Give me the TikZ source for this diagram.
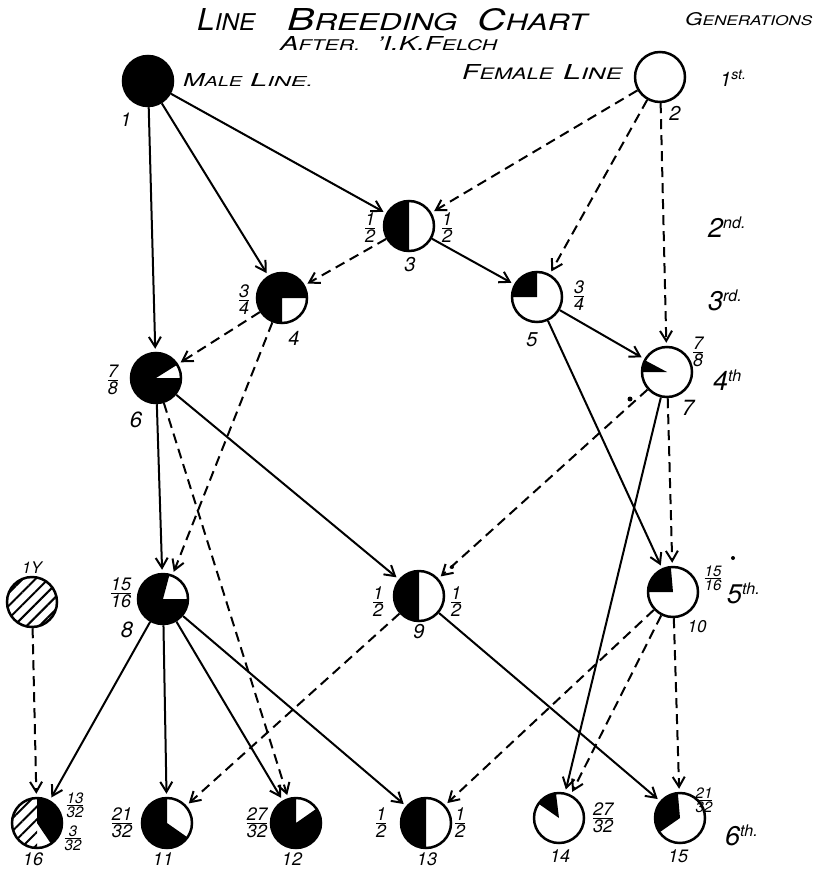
\documentclass[tikz,border=0pt]{standalone}
\usepackage{fontspec}
\setmainfont{TeX Gyre Heros}
\usepackage{graphicx}
\usetikzlibrary{arrows.meta,patterns.meta}
\newcommand\frc[2]{$\hbox{#1}\above 1.1pt\hbox{#2}$}
\newcommand\Lg[1]{{\fontsize{30pt}{30pt}\selectfont\itshape #1}}
\newcommand\Sm[1]{{\fontsize{23pt}{23pt}\selectfont\itshape #1}}
\newcommand\ordn[2]{{\fontsize{27pt}{27pt}\selectfont\itshape #1\raisebox{9pt}{\fontsize{16pt}{16pt}\selectfont #2}}}
\tikzset{
  ind/.style={circle, draw, line width=2.5pt, minimum size=50pt, inner sep=0pt, fill=white},
  blk/.style 2 args={path picture={\fill[black] (path picture bounding box.center) -- +(#1:40pt) arc[start angle=#1,end angle=#2,radius=40pt] -- cycle;}},
  num/.style={inner sep=0pt, font=\fontsize{20pt}{20pt}\selectfont\itshape},
  bnum/.style={inner sep=0pt, font=\fontsize{18pt}{18pt}\selectfont\itshape},
  fracs/.style={inner sep=0pt, font=\fontsize{18pt}{18pt}\selectfont\itshape},
  sfracs/.style={inner sep=0pt, font=\fontsize{15pt}{15pt}\selectfont\itshape},
  wrd/.style={inner sep=0pt, anchor=base west},
  sol/.style={line width=2pt, -{Straight Barb[length=10pt,width=12pt]}, shorten >=3pt},
  dsh/.style={sol, dash pattern=on 10pt off 6pt},
  hatch/.style={pattern={Lines[angle=45,distance=9pt,line width=2pt]}},
}
\begin{document}
\begin{tikzpicture}[x=1pt,y=-1pt]
\fill[white] (0,0) rectangle (820,869);
\useasboundingbox (0,0) rectangle (820,869);

% title
\node[wrd] (t1) at (197,31) {\resizebox{58pt}{22pt}{\Lg{L}\Sm{INE}}};
\node[wrd] (t2) at (287,31) {\resizebox{170pt}{22pt}{\Lg{B}\Sm{REEDING}}};
\node[wrd] (t3) at (477,31) {\resizebox{110pt}{22pt}{\Lg{C}\Sm{HART}}};
\node[wrd] (s1) at (280,51) {\resizebox{80pt}{14pt}{\Lg{A}\Sm{FTER.}}};
\node[wrd] (s2) at (377,51) {\resizebox{120pt}{14pt}{\Lg{'I.K.F}\Sm{ELCH}}};
\node[wrd] (m1) at (183,87) {\resizebox{59pt}{13pt}{\Lg{M}\Sm{ALE}}};
\node[wrd] (m2) at (250,87) {\resizebox{63pt}{13pt}{\Lg{L}\Sm{INE.}}};
\node[wrd] (f1) at (462,80) {\resizebox{91pt}{15pt}{\Lg{F}\Sm{EMALE}}};
\node[wrd] (f2) at (563,80) {\resizebox{59pt}{15pt}{\Lg{L}\Sm{INE}}};
\node[wrd] (gen) at (685,26) {\resizebox{127pt}{13pt}{\Lg{G}\Sm{ENERATIONS}}};

% generations
\node[wrd] (g1) at (720,87) {{\fontsize{20pt}{20pt}\selectfont\itshape 1\raisebox{7pt}{\fontsize{14pt}{14pt}\selectfont st.}}};
\node[wrd] (g2) at (708,237) {\ordn{2}{nd.}};
\node[wrd] (g3) at (708,310) {\ordn{3}{rd.}};
\node[wrd] (g4) at (713,390) {\ordn{4}{th}};
\node[wrd] (g5) at (727,603) {\ordn{5}{th.}};
\node[wrd] (g6) at (725,845) {\ordn{6}{th.}};

% individuals
\node[ind, fill=black] (n1) at (148,81) {};
\node[ind] (n2) at (660,77) {};
\node[ind, blk={90}{270}] (n3) at (409,226) {};
\node[ind, blk={0}{270}] (n4) at (282,298) {};
\node[ind, blk={90}{180}] (n5) at (537,297) {};
\node[ind, blk={32}{360}] (n6) at (156,378) {};
\node[ind, blk={152}{180}] (n7) at (667,372) {};
\node[ind, blk={75}{360}] (n8) at (163,599) {};
\node[ind, path picture={\fill[hatch] (path picture bounding box.south west) rectangle (path picture bounding box.north east);}] (n1Y) at (32,602) {};
\node[ind, blk={90}{270}] (n9) at (419,596) {};
\node[ind, blk={95}{180}] (n10) at (673,592) {};
\node[ind, path picture={
  \fill[hatch] (path picture bounding box.center) -- +(90:40pt) arc[start angle=90,end angle=270,radius=40pt] -- cycle;
  \fill[black] (path picture bounding box.center) -- +(304:40pt) arc[start angle=304,end angle=450,radius=40pt] -- cycle;}] (n16) at (37,823) {};
\node[ind, blk={90}{325}] (n11) at (167,823) {};
\node[ind, blk={90}{395}] (n12) at (296,823) {};
\node[ind, blk={90}{270}] (n13) at (426,823) {};
\node[ind, blk={97}{145}] (n14) at (559,818) {};
\node[ind, blk={95}{215}] (n15) at (680,818) {};

% numbers
\node[num, font=\fontsize{19pt}{19pt}\selectfont\itshape] (l1) at (126,120) {1};
\node[num] (l2) at (675,113) {2};
\node[num] (l3) at (410,265) {3};
\node[num] (l4) at (294,338) {4};
\node[num] (l5) at (532,340) {5};
\node[num, font=\fontsize{22pt}{22pt}\selectfont\itshape] (l6) at (136,420) {6};
\node[num, font=\fontsize{22pt}{22pt}\selectfont\itshape] (l7) at (688,408) {7};
\node[num, font=\fontsize{22pt}{22pt}\selectfont\itshape] (l8) at (127,630) {8};
\node[num] (l9) at (419,632) {9};
\node[num, font=\fontsize{17pt}{17pt}\selectfont\itshape] (l10) at (697,627) {10};
\node[num, font=\fontsize{16pt}{16pt}\selectfont\itshape] (l1Y) at (32,568) {1Y};
\node[bnum] (l16) at (33,859) {16};
\node[bnum] (l11) at (163,859) {11};
\node[bnum] (l12) at (292,859) {12};
\node[bnum] (l13) at (427,859) {13};
\node[bnum] (l14) at (560,856) {14};
\node[bnum] (l15) at (678,856) {15};

% fractions
\node[fracs] (q3a) at (370,228) {\frc{1}{2}};
\node[fracs] (q3b) at (447,228) {\frc{1}{2}};
\node[fracs] (q4) at (244,300) {\frc{3}{4}};
\node[fracs] (q5) at (579,296) {\frc{3}{4}};
\node[fracs] (q6) at (113,380) {\frc{7}{8}};
\node[fracs] (q7) at (698,352) {\frc{7}{8}};
\node[fracs] (q8) at (121,593) {\frc{15}{16}};
\node[fracs] (q9a) at (378,602) {\frc{1}{2}};
\node[fracs] (q9b) at (456,602) {\frc{1}{2}};
\node[sfracs] (q10) at (713,578) {\frc{15}{16}};
\node[sfracs] (q16a) at (75,805) {\frc{13}{32}};
\node[sfracs] (q16b) at (73,838) {\frc{3}{32}};
\node[fracs] (q11) at (122,823) {\frc{21}{32}};
\node[fracs] (q12) at (257,823) {\frc{27}{32}};
\node[fracs] (q13a) at (381,823) {\frc{1}{2}};
\node[fracs] (q13b) at (460,823) {\frc{1}{2}};
\node[fracs] (q14) at (603,818) {\frc{27}{32}};
\node[sfracs] (q15) at (704,800) {\frc{21}{32}};

% connectors
\draw[sol] (n1) -- (n3);
\draw[sol] (n1) -- (n4);
\draw[sol] (n1) -- (n6);
\draw[dsh] (n2) -- (n3);
\draw[dsh] (n2) -- (n5);
\draw[dsh] (n2) -- (n7);
\draw[dsh] (n3) -- (n4);
\draw[sol] (n3) -- (n5);
\draw[dsh] (n4) -- (n6);
\draw[dsh] (n4) -- (n8);
\draw[sol] (n5) -- (n7);
\draw[sol] (n5) -- (n10);
\draw[sol] (n6) -- (n8);
\draw[dsh] (n6) -- (n12);
\draw[sol] (n6) -- (n9);
\draw[dsh] (n7) -- (n9);
\draw[dsh] (n7) -- (n10);
\draw[sol] (n7) -- (n14);
\draw[sol] (n8) -- (n16);
\draw[sol] (n8) -- (n11);
\draw[sol] (n8) -- (n12);
\draw[sol] (n8) -- (n13);
\draw[dsh] (n1Y) -- (n16);
\draw[dsh] (n9) -- (n11);
\draw[sol] (n9) -- (n15);
\draw[dsh] (n10) -- (n13);
\draw[dsh] (n10) -- (n14);
\draw[dsh] (n10) -- (n15);

% specks
\fill (630,399) circle (2.5pt);
\fill (452,567) circle (2pt);
\fill (733,558) circle (2pt);
\end{tikzpicture}
\end{document}
